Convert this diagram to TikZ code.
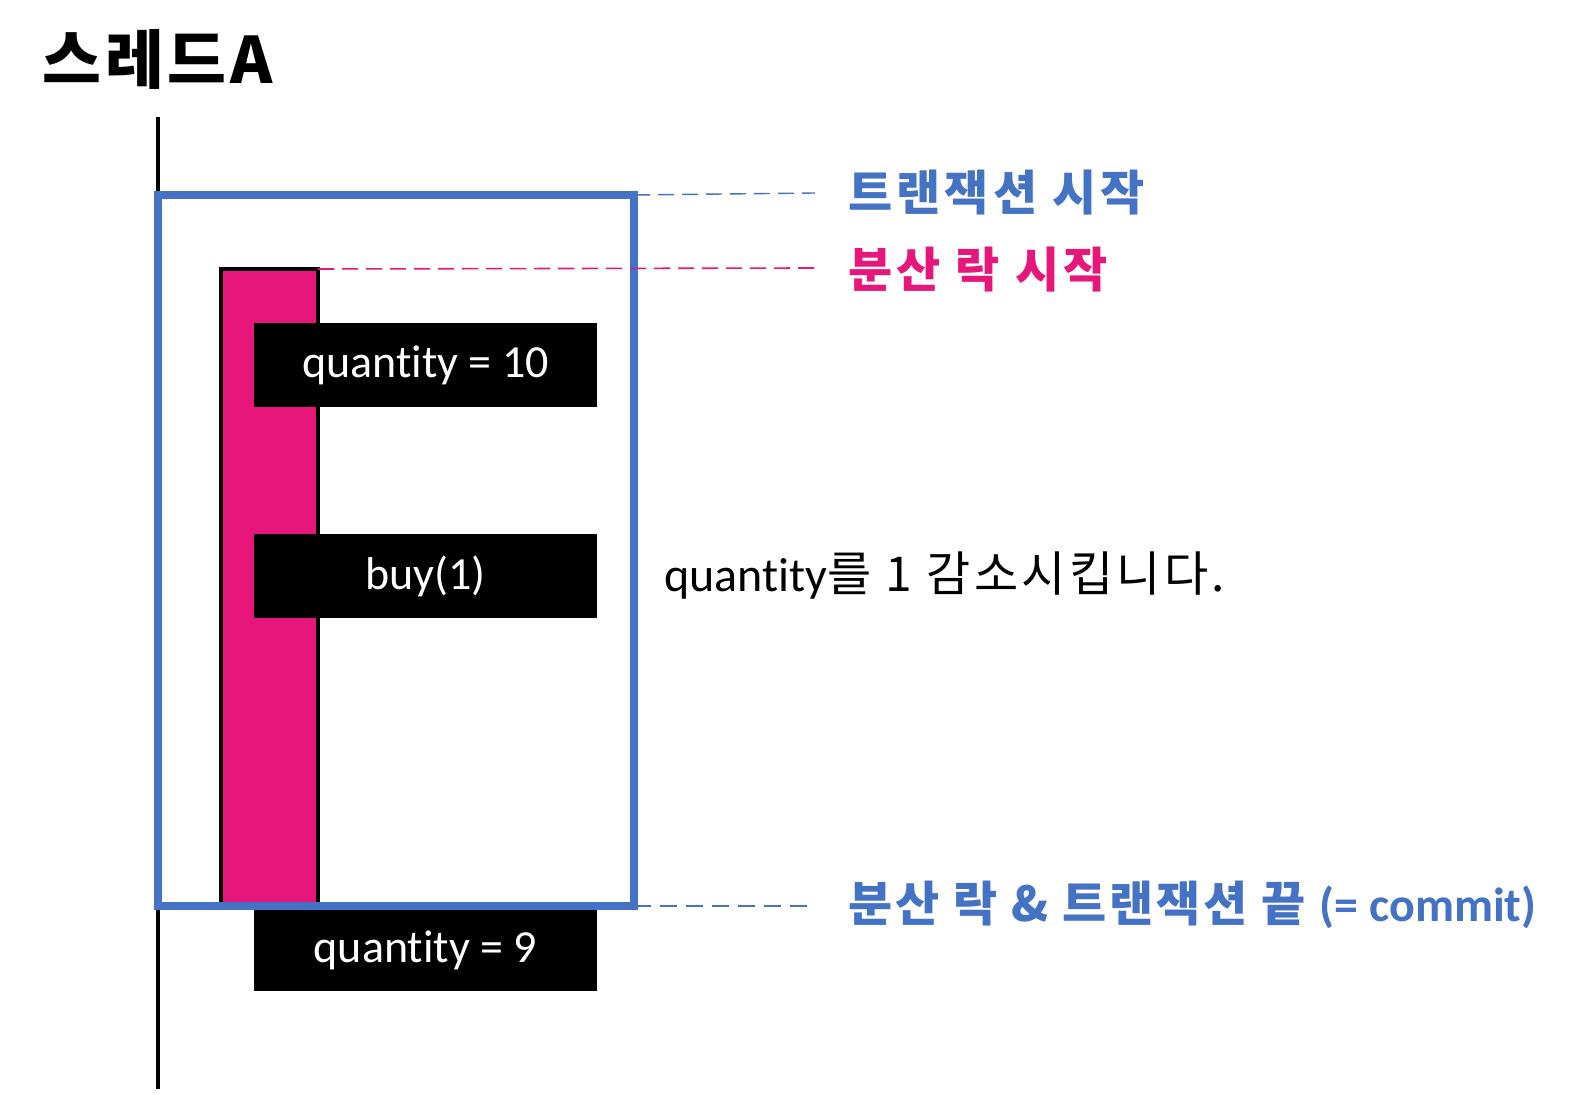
\documentclass[tikz,border=0pt]{standalone}
\usepackage{fontspec}
\setmainfont[Ligatures=CommonOff]{Carlito}
\newfontfamily\krsp[LetterSpace=6]{Noto Sans CJK KR}
\newfontfamily\krtop[LetterSpace=8.5]{Noto Sans CJK KR}
\newfontfamily\krnote[LetterSpace=7]{Noto Sans CJK KR}
\definecolor{oblue}{RGB}{68,114,196}
\definecolor{opink}{RGB}{231,22,123}
\tikzset{
  lifeline/.style={line width=2.2pt, draw=black},
  txbox/.style={rectangle, inner sep=0pt, outer sep=0pt, minimum width=238pt, minimum height=355.5pt},
  txline/.style={draw=oblue, line width=4pt},
  lockbar/.style={rectangle, inner sep=0pt, outer sep=0pt, fill=opink, draw=black, line width=2pt, minimum width=48.5pt, minimum height=318pt},
  opbox/.style={rectangle, inner sep=0pt, outer sep=0pt, fill=black, text=white, minimum width=171.5pt, minimum height=42pt, font=\fontsize{23}{27}\selectfont},
  guide/.style={dash pattern=on 8pt off 4pt, line width=0.8pt},
  lbl/.style={anchor=west, inner sep=0pt, font=\krtop\bfseries\fontsize{24}{28}\selectfont},
}
\begin{document}
\begin{tikzpicture}[x=0.5pt,y=-0.5pt]
\useasboundingbox (0,0) rectangle (1581,1095);
\fill[white] (0,0) rectangle (1581,1095);

% title
\node[anchor=west, inner sep=0pt, font=\krsp\bfseries\fontsize{32}{36}\selectfont] (title) at (42,60) {스레드A};

% lifeline
\coordinate (ltop) at (158,117);
\coordinate (lbot) at (158,1089);
\draw[lifeline] (ltop) -- (lbot);

% transaction box background
\node[txbox, fill=white] (tx) at (396,550.5) {};

% lock bar
\node[lockbar] (lock) at (269.5,587) {};

% operation boxes
\node[opbox] (op1) at (425.5,365) {\raisebox{-1.5pt}{quantity = 10}};
\node[opbox] (op2) at (425.5,576) {\raisebox{-1.5pt}{buy(1)}};
\node[opbox, minimum height=40.5pt] (op3) at (425.5,950.5) {\raisebox{-1.5pt}{quantity = 9}};

% transaction border
\draw[txline] (tx.north west) rectangle (tx.south east);

% guide lines
\coordinate (g1) at (815,193);
\coordinate (g2) at (815,268);
\coordinate (g3) at (815,906);
\draw[guide, oblue, line width=0.7pt] (tx.north east) -- (g1);
\draw[guide, opink] (lock.north east) -- (g2);
\draw[guide, oblue, dash pattern=on 8.5pt off 4.5pt] (tx.south east) -- (g3);

% labels
\node[lbl, text=oblue] (l1) at (848,193) {트랜잭션 시작};
\node[lbl, text=opink] (l2) at (848,270) {분산 락 시작};
\node[lbl, text=oblue, font=\krsp\bfseries\fontsize{24}{28}\selectfont] (l3) at (848,905) {분산 락 \& 트랜잭션 끝 {\rmfamily\bfseries (= commit)}};

\node[anchor=west, inner sep=0pt, font=\fontsize{24}{28}\selectfont] (note) at (664,576) {quantity{\krnote 를 1 감소시킵니다.}};
\end{tikzpicture}
\end{document}
